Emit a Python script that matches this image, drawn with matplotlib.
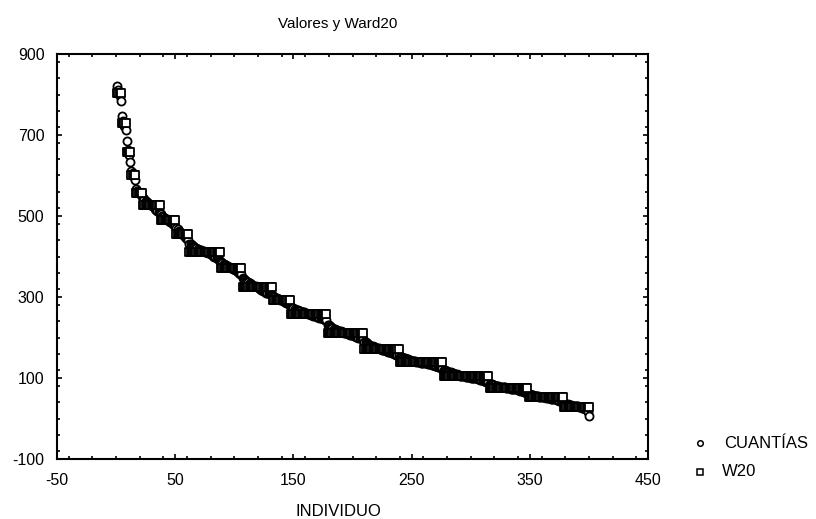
import numpy as np
import matplotlib.pyplot as plt
from matplotlib.ticker import MultipleLocator

plt.rcParams['font.family'] = ['Liberation Sans', 'DejaVu Sans']
plt.rcParams['axes.unicode_minus'] = False

# cuantias por individuo (ordenadas de mayor a menor)
cuantias = [
    820, 812, 796, 785,
    748, 734, 722, 712,
    684, 664, 651, 633,
    612, 605, 597, 588,
    566, 562, 559, 556, 553, 550,
    544, 541, 538, 535, 532, 530, 528, 526, 524, 521, 518, 516, 513, 510, 507,
    504, 501, 498, 496, 493, 491, 489, 487, 485, 482, 480, 478, 475,
    470, 467, 464, 461, 458, 455, 452, 449, 446, 443, 440,
    432, 430, 428, 426, 424, 422, 420, 418, 417, 416, 415, 414, 413, 412,
    411, 410, 409, 408, 406, 404, 402, 400, 398, 396, 394, 392, 390,
    386, 384, 382, 380, 378, 376, 374, 373, 372, 371, 370, 368, 366, 364,
    362, 360, 358, 356,
    348, 345, 342, 340, 338, 336, 334, 332, 330, 328, 327, 326, 325, 324,
    322, 320, 318, 316, 314, 312, 311, 310, 309, 308, 307, 306,
    302, 300, 298, 297, 295, 294, 293, 292, 290, 289, 288, 286, 285, 283, 281,
    276, 274, 272, 270, 269, 268, 267, 266, 265, 264, 263, 262, 261, 260, 259,
    258, 257, 256, 255, 254, 253, 252, 251, 250, 249, 248, 247, 246, 245, 244,
    243,
    232, 230, 228, 226, 224, 222, 220, 219, 218, 217, 216, 215, 214, 213, 212,
    211, 210, 209, 208, 207, 206, 205, 204, 203, 202, 201, 200, 199, 198, 197,
    196,
    190, 188, 186, 184, 182, 180, 179, 178, 177, 176, 175, 174, 173, 172, 171,
    170, 169, 168, 167, 166, 165, 164, 163, 162, 161, 160, 159, 158, 157, 156,
    153, 152, 151, 150, 149, 148, 147, 146, 145, 144, 143, 142, 141, 141, 140,
    140, 139, 139, 138, 138, 137, 137, 136, 136, 135, 135, 134, 133, 132, 131,
    130, 129, 128, 127, 126, 125, 124,
    120, 119, 118, 117, 116, 115, 114, 113, 112, 111, 110, 109, 108, 107, 106,
    105, 105, 104, 104, 103, 103, 102, 102, 101, 101, 100, 100, 99, 99, 98,
    97, 96, 95, 94, 93, 92, 91, 90, 89,
    86, 85, 84, 83, 82, 81, 80, 80, 79, 79, 78, 78, 77, 77, 76,
    76, 75, 75, 74, 74, 73, 73, 72, 72, 71, 70, 69, 68, 67, 66,
    65, 64, 63,
    61, 60, 59, 58, 57, 56, 56, 55, 55, 54, 54, 53, 53, 52, 52,
    51, 51, 50, 50, 49, 49, 48, 48, 47, 46, 45, 44, 43, 42, 41,
    38, 37, 36, 35, 34, 33, 33, 32, 32, 31, 31, 30, 30, 29, 28,
    27, 26, 25, 24, 23, 15, 5,
]

# Ward con 20 grupos: valor medio y tamaño de cada grupo
w20_nivel = [803, 729, 658, 600, 558, 526, 489, 455, 412, 371,
             324, 292, 258, 212, 172, 139, 104, 75, 52, 29]
w20_n = [4, 4, 4, 4, 6, 15, 13, 11, 27, 18,
         26, 15, 31, 31, 30, 37, 39, 33, 30, 22]

individuo = np.arange(1, len(cuantias) + 1)
w20 = np.repeat(w20_nivel, w20_n)

fig = plt.figure(figsize=(8.16, 5.19), dpi=100)
ax = fig.add_axes([57/816, 1 - 459/519, 591/816, 405/519])

ax.scatter(individuo, cuantias, s=34, marker='o', facecolors='white',
           edgecolors='black', linewidths=1.3, zorder=3)
ax.scatter(individuo, w20, s=40, marker='s', facecolors='white',
           edgecolors='black', linewidths=1.3, zorder=4)

ax.set_xlim(-50, 450)
ax.set_ylim(-100, 900)
ax.set_xticks(np.arange(-50, 451, 100))
ax.set_yticks(np.arange(-100, 901, 200))
ax.xaxis.set_minor_locator(MultipleLocator(20))
ax.yaxis.set_minor_locator(MultipleLocator(40))
ax.tick_params(which='both', direction='in', top=True, right=True,
               color='black', labelsize=11.5)
ax.tick_params(which='major', length=3.5, width=1.2)
ax.tick_params(which='minor', length=2, width=1.2)
ax.tick_params(axis='x', pad=10)
ax.tick_params(axis='y', pad=9)
for s in ax.spines.values():
    s.set_linewidth(1.5)

fig.text(338/816, 1 - 24/519, 'Valores y Ward20', ha='center', va='center',
         fontsize=11)
fig.text(338/816, 1 - 511/519, 'INDIVIDUO', ha='center', va='center',
         fontsize=12)

# leyenda
lax = fig.add_axes([0, 0, 1, 1])
lax.set_xlim(0, 816)
lax.set_ylim(519, 0)
lax.axis('off')
lax.plot([700], [443], marker='o', ms=4, mfc='white', mec='black', mew=1.1)
lax.plot([700], [472], marker='s', ms=4, mfc='white', mec='black', mew=1.1)
lax.text(724, 443, 'CUANTÍAS', ha='left', va='center', fontsize=12)
lax.text(722, 472, 'W20', ha='left', va='center', fontsize=12)

fig.savefig('out.png', dpi=100)
